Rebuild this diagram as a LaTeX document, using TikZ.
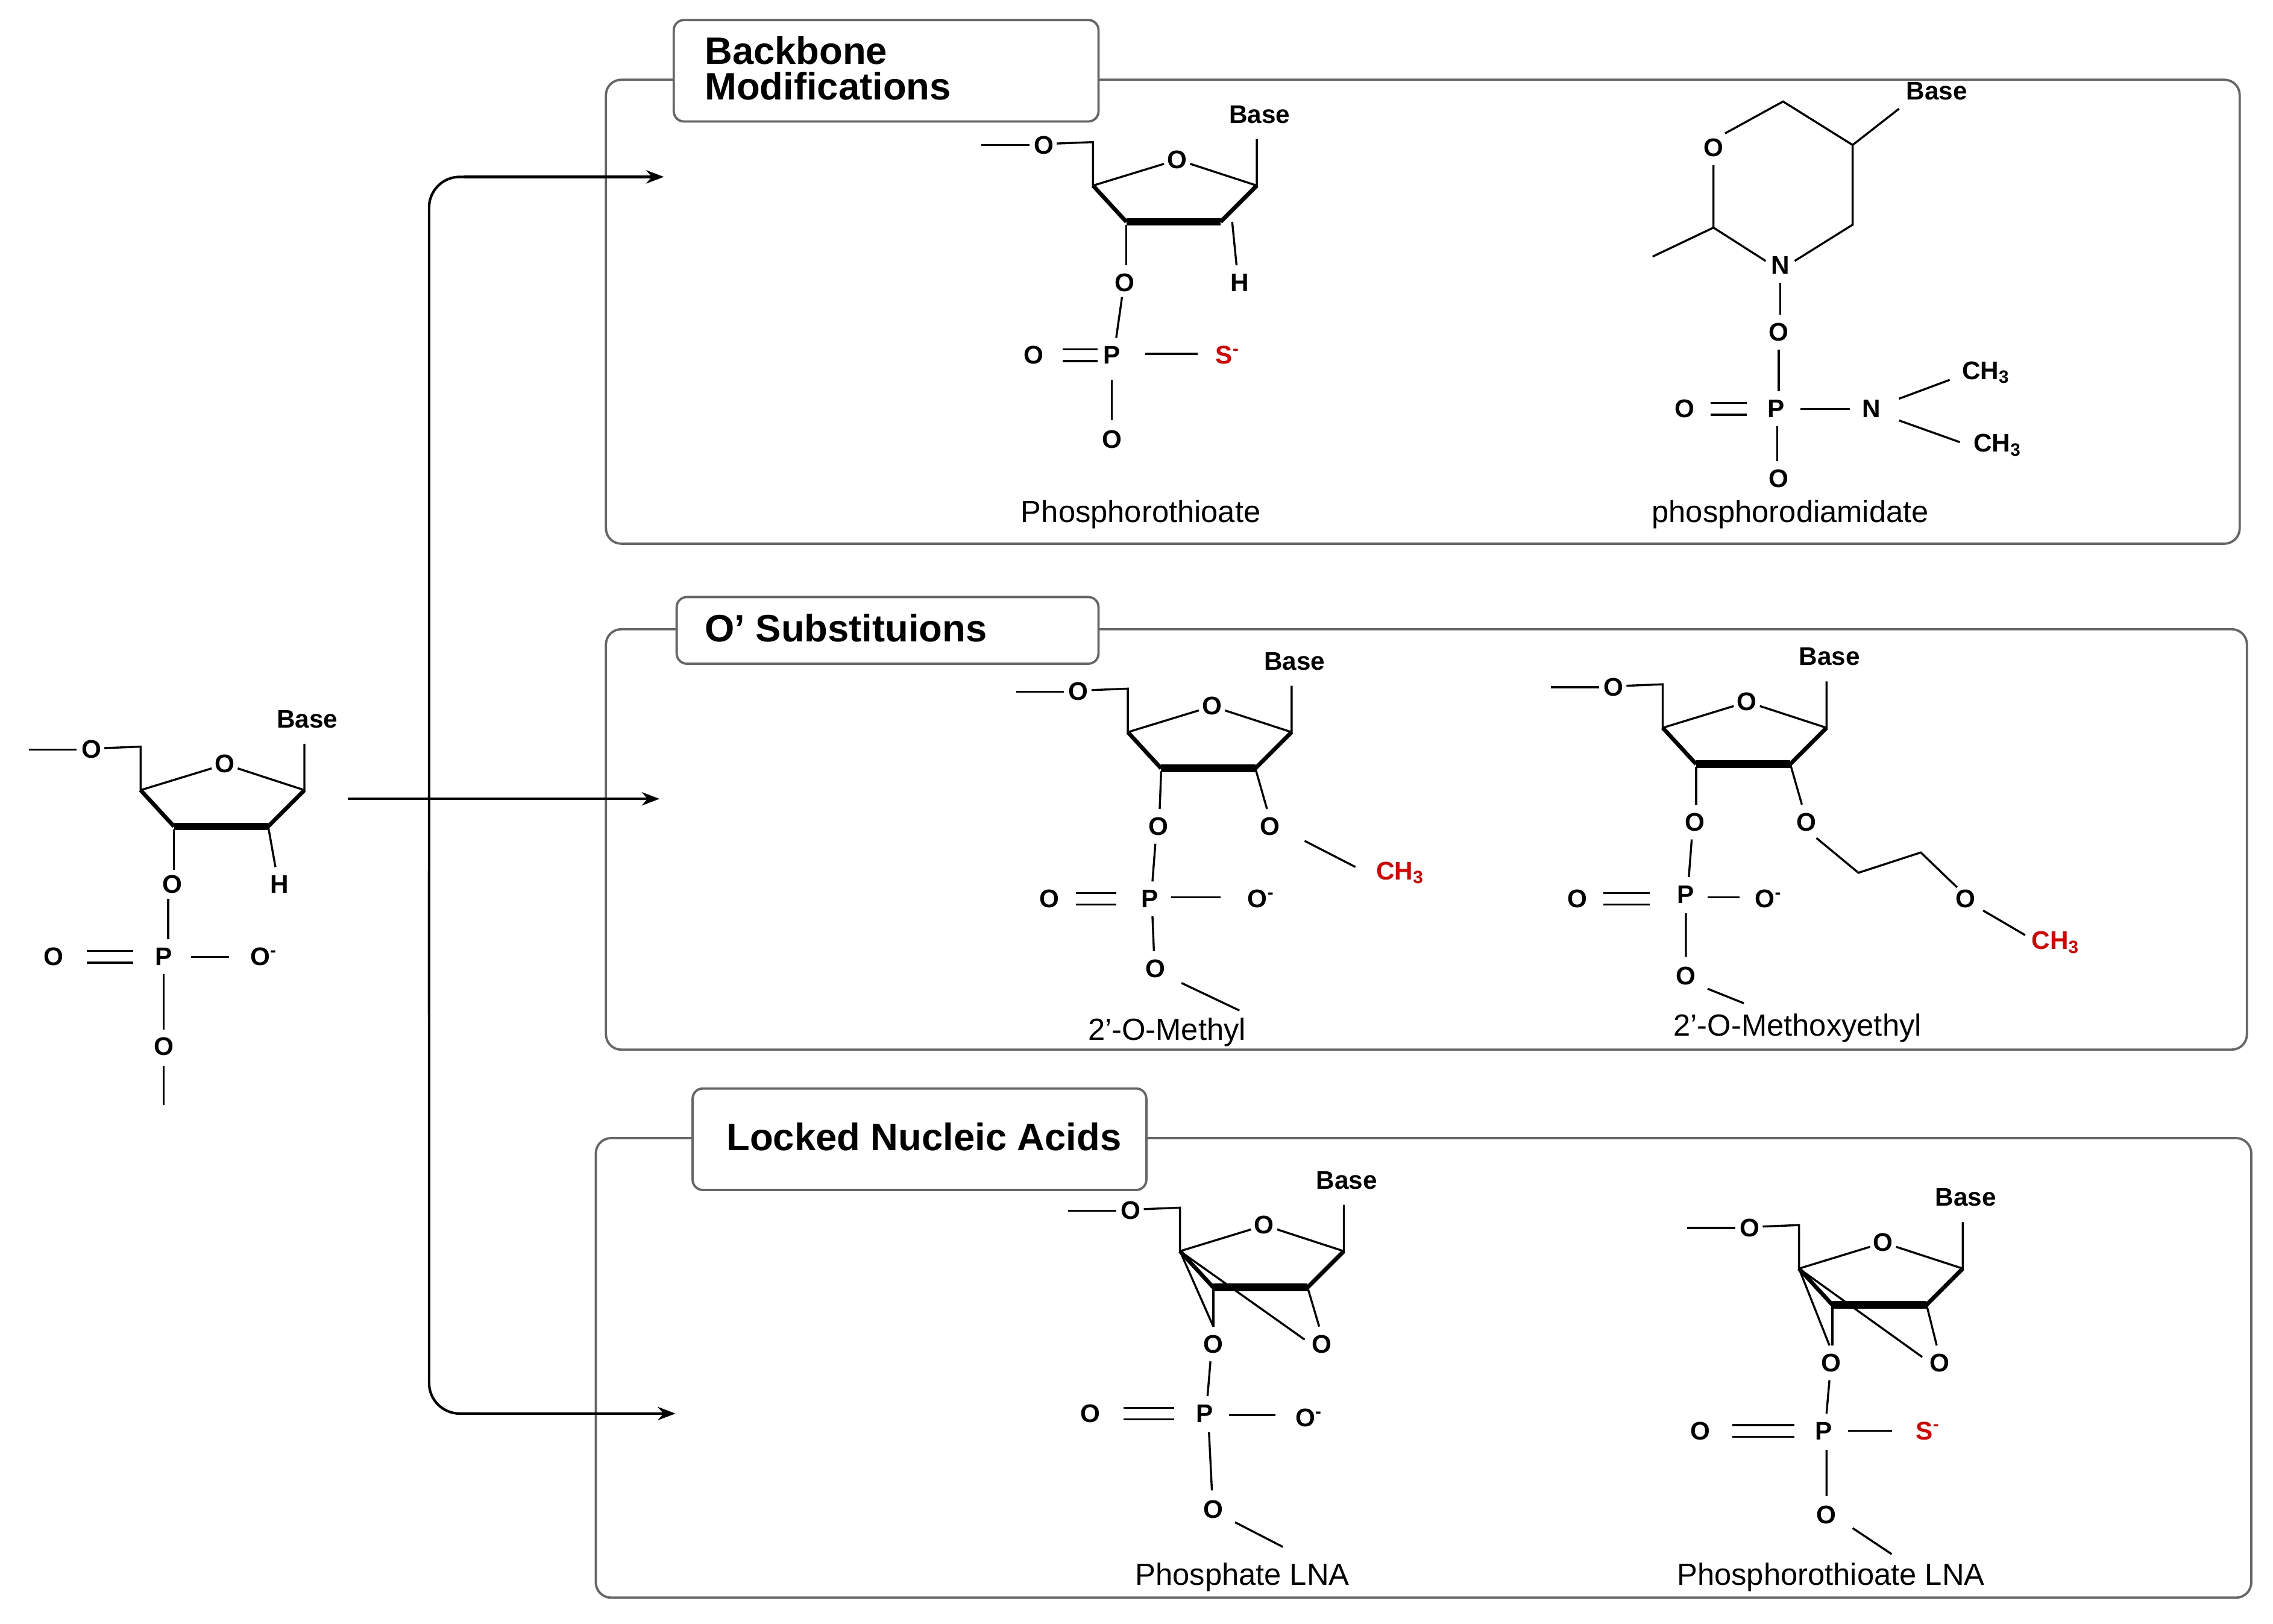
\documentclass[tikz,border=0pt]{standalone}
\usepackage{fontspec}
\setmainfont{Liberation Sans}
\usetikzlibrary{arrows.meta}
\begin{document}
\begin{tikzpicture}[x=0.02cm,y=-0.02cm,
  atm/.style={font=\bfseries\fontsize{10}{12}\selectfont,inner sep=1pt},
  lab/.style={font=\fontsize{12}{14}\selectfont},
  ttl/.style={font=\bfseries\fontsize{15}{17}\selectfont,align=left},
  box/.style={draw=black!60,line width=0.9pt,rounded corners=6pt},
  tbox/.style={draw=black!60,line width=0.9pt,rounded corners=4pt,fill=white},
  bd/.style={line width=0.8pt},
  rd/.style={text=red!85!black},
  arr/.style={line width=1pt,-{Stealth[length=7pt]}},
  pics/sugar/.style={code={
    \node[atm] at (0,0) {O};
    \node[atm] at (-92,-10) {O};
    \node[atm] at (57,-31) {Base};
    \draw[bd] (-135,-10)--(-102,-10);
    \draw[bd] (-83,-11)--(-58,-12)--(-58,18)--(-9,3);
    \draw[bd] (9,3)--(55,18)--(55,-14);
    \draw[line width=1.6pt] (55,18)--(30,43);
    \draw[line width=3pt] (30,43)--(-35,43);
    \draw[line width=1.6pt] (-35,43)--(-58,18);
  }}]
\useasboundingbox (0,0) rectangle (1568,1120);
% boxes
\draw[box] (418,55) rectangle (1545,375);
\node[tbox,minimum width=293*0.02cm,minimum height=70*0.02cm,anchor=north west] (t1) at (464,13) {};
\node[ttl,anchor=west] at (480,47) {Backbone\\[-3pt]Modifications};
\draw[box] (418,434) rectangle (1550,724);
\node[tbox,minimum width=291*0.02cm,minimum height=46*0.02cm,anchor=north west] (t2) at (466,411) {};
\node[ttl,anchor=west] at (480,433) {O' Substituions};
\draw[box] (411,785) rectangle (1553,1102);
\node[tbox,minimum width=313*0.02cm,minimum height=70*0.02cm,anchor=north west] (t3) at (477,750) {};
\node[ttl,anchor=west] at (495,784) {Locked Nucleic Acids};
% arrows
\coordinate (s) at (240,551); \coordinate (e2) at (455,551);
\coordinate (e1) at (458,122); \coordinate (e3) at (466,975);
\draw[arr] (s)--(e2);
\draw[line width=1pt,rounded corners=12pt] (296,700)--(296,122)--(330,122);
\draw[arr] (320,122)--(e1);
\draw[line width=1pt,rounded corners=12pt] (296,600)--(296,975)--(330,975);
\draw[arr] (320,975)--(e3);
% left structure
\pic at (155,527) {sugar};
\node[atm] at (119,610) {O}; \draw[bd] (120,572)--(120,600);
\node[atm] at (193,610) {H}; \draw[bd] (185,570)--(190,598);
\node[atm] at (113,660) {P}; \draw[bd] (116,620)--(116,648);
\node[atm] at (37,660) {O}; \draw[bd] (60,656)--(92,656) (60,664)--(92,664);
\node[atm] at (182,660) {O\textsuperscript{-}}; \draw[bd] (132,660)--(158,660);
\node[atm] at (113,722) {O}; \draw[bd] (113,672)--(113,710) (113,735)--(113,762);
% phosphorothioate
\pic at (812,110) {sugar};
\node[atm] at (776,195) {O}; \draw[bd] (777,155)--(777,183);
\node[atm] at (855,195) {H}; \draw[bd] (850,153)--(853,183);
\node[atm] at (767,245) {P}; \draw[bd] (774,205)--(770,233);
\node[atm] at (713,245) {O}; \draw[bd] (733,241)--(757,241) (733,249)--(757,249);
\node[atm,rd] at (847,245) {S\textsuperscript{-}}; \draw[bd] (790,244)--(826,244);
\node[atm] at (767,303) {O}; \draw[bd] (767,262)--(767,290);
\node[lab] at (787,355) {Phosphorothioate};
% phosphorodiamidate
\node[atm] at (1182,102) {O}; \node[atm] at (1228,183) {N};
\node[atm] at (1336,63) {Base};
\draw[bd] (1190,92)--(1230,70)--(1278,100)--(1278,155)--(1238,180);
\draw[bd] (1278,100)--(1310,75);
\draw[bd] (1218,180)--(1182,157)--(1182,114) (1182,157)--(1140,177);
\node[atm] at (1227,229) {O}; \draw[bd] (1228,195)--(1228,217);
\node[atm] at (1225,282) {P}; \draw[bd] (1227,241)--(1227,270);
\node[atm] at (1162,282) {O}; \draw[bd] (1180,278)--(1205,278) (1180,286)--(1205,286);
\node[atm] at (1291,282) {N}; \draw[bd] (1242,282)--(1276,282);
\node[atm] at (1370,257) {CH\textsubscript{3}}; \draw[bd] (1310,275)--(1345,262);
\node[atm] at (1378,307) {CH\textsubscript{3}}; \draw[bd] (1310,290)--(1352,305);
\node[atm] at (1227,330) {O}; \draw[bd] (1226,294)--(1226,318);
\node[lab] at (1235,355) {phosphorodiamidate};
% 2'-O-methyl
\pic at (836,487) {sugar};
\node[atm] at (799,570) {O}; \draw[bd] (801,532)--(800,558);
\node[atm] at (876,570) {O}; \draw[bd] (866,530)--(874,558);
\draw[bd] (900,580)--(935,598); \node[atm,rd] at (966,602) {CH\textsubscript{3}};
\node[atm] at (793,620) {P}; \draw[bd] (797,582)--(795,608);
\node[atm] at (724,620) {O}; \draw[bd] (742,616)--(770,616) (742,624)--(770,624);
\node[atm] at (870,620) {O\textsuperscript{-}}; \draw[bd] (808,619)--(842,619);
\node[atm] at (797,668) {O}; \draw[bd] (795,632)--(796,656) (815,678)--(855,697);
\node[lab] at (805,712) {2'-O-Methyl};
% MOE
\pic at (1205,484) {sugar};
\node[atm] at (1169,567) {O}; \draw[bd] (1170,529)--(1170,555);
\node[atm] at (1246,567) {O}; \draw[bd] (1235,527)--(1243,555);
\draw[bd] (1253,578)--(1282,602)--(1325,588)--(1350,612);
\node[atm] at (1356,620) {O};
\draw[bd] (1368,628)--(1397,645); \node[atm,rd] at (1418,650) {CH\textsubscript{3}};
\node[atm] at (1163,617) {P}; \draw[bd] (1167,579)--(1165,605);
\node[atm] at (1088,620) {O}; \draw[bd] (1106,616)--(1138,616) (1106,624)--(1138,624);
\node[atm] at (1220,620) {O\textsuperscript{-}}; \draw[bd] (1178,619)--(1200,619);
\node[atm] at (1163,673) {O}; \draw[bd] (1163,630)--(1163,660) (1178,682)--(1203,692);
\node[lab] at (1240,709) {2'-O-Methoxyethyl};
% phosphate LNA
\pic at (872,845) {sugar};
\draw[bd] (814,863)--(837,915) (814,863)--(900,924);
\node[atm] at (837,927) {O}; \draw[bd] (837,888)--(837,915);
\node[atm] at (912,927) {O}; \draw[bd] (902,888)--(910,915);
\node[atm] at (831,975) {P}; \draw[bd] (835,939)--(833,963);
\node[atm] at (752,975) {O}; \draw[bd] (775,971)--(810,971) (775,979)--(810,979);
\node[atm] at (903,978) {O\textsuperscript{-}}; \draw[bd] (848,976)--(880,976);
\node[atm] at (837,1041) {O}; \draw[bd] (834,988)--(836,1028) (852,1050)--(885,1067);
\node[lab] at (857,1088) {Phosphate LNA};
% phosphorothioate LNA
\pic at (1299,857) {sugar};
\draw[bd] (1241,875)--(1262,928) (1241,875)--(1326,936);
\node[atm] at (1263,940) {O}; \draw[bd] (1264,900)--(1264,928);
\node[atm] at (1338,940) {O}; \draw[bd] (1329,900)--(1336,928);
\node[atm] at (1258,987) {P}; \draw[bd] (1262,952)--(1260,975);
\node[atm] at (1173,987) {O}; \draw[bd] (1195,983)--(1238,983) (1195,991)--(1238,991);
\node[atm,rd] at (1330,987) {S\textsuperscript{-}}; \draw[bd] (1275,987)--(1305,987);
\node[atm] at (1260,1045) {O}; \draw[bd] (1260,1000)--(1260,1032) (1278,1054)--(1305,1072);
\node[lab] at (1263,1088) {Phosphorothioate LNA};
\end{tikzpicture}
\end{document}
